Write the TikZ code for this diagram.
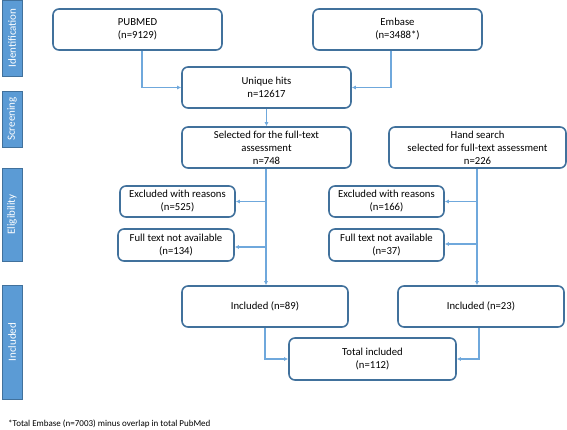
\documentclass[tikz,border=0pt]{standalone}
\usepackage{fontspec}
\setmainfont{Carlito}
\usetikzlibrary{arrows.meta,calc}
\definecolor{boxline}{HTML}{41719C}
\definecolor{conn}{HTML}{6FA8DC}
\definecolor{barfill}{HTML}{5B9BD5}
\tikzset{
  flowbox/.style={draw=boxline, line width=1.6pt, rounded corners=6pt, fill=white,
    align=center, inner sep=1pt, font=\fontsize{10.7}{13}\selectfont},
  sidebar/.style={draw=boxline, line width=0.5pt, fill=barfill, text=white,
    minimum width=20pt, inner sep=0pt, font=\fontsize{11}{12}\selectfont},
  conline/.style={draw=conn, line width=1.2pt, -{Latex[length=4pt,width=4pt]}},
}
\begin{document}
\begin{tikzpicture}[x=1pt,y=-1pt]
\useasboundingbox (0,0) rectangle (567,430);
% side bars
\node[sidebar, minimum height=76pt] (bid) at (12,38) {\rotatebox{90}{Identification}};
\node[sidebar, minimum height=56pt] (bsc) at (12,119) {\rotatebox{90}{Screening}};
\node[sidebar, minimum height=93pt] (bel) at (12,214.5) {\rotatebox{90}{Eligibility}};
\node[sidebar, minimum height=114pt] (bin) at (12,342) {\rotatebox{90}{Included}};
% boxes
\node[flowbox, minimum width=169pt, minimum height=41pt] (pub) at (137.5,29.5) {PUBMED\\(n=9129)};
\node[flowbox, minimum width=169pt, minimum height=41pt] (emb) at (397.5,29.5) {Embase\\(n=3488*)};
\node[flowbox, minimum width=169pt, minimum height=41pt] (uni) at (266.5,87.5) {Unique hits\\n=12617};
\node[flowbox, minimum width=169pt, minimum height=41pt] (sel) at (266.5,147.5) {Selected for the full-text\\assessment\\n=748};
\node[flowbox, minimum width=177pt, minimum height=41pt] (hand) at (477.5,147.5) {Hand search\\selected for full-text assessment\\n=226};
\node[flowbox, minimum width=115pt, minimum height=31pt] (exa) at (177.5,201.5) {Excluded with reasons\\(n=525)};
\node[flowbox, minimum width=116pt, minimum height=32pt] (fta) at (176,245) {Full text not available\\(n=134)};
\node[flowbox, minimum width=115pt, minimum height=31pt] (exb) at (386.5,201.5) {Excluded with reasons\\(n=166)};
\node[flowbox, minimum width=115pt, minimum height=32pt] (ftb) at (386.5,245) {Full text not available\\(n=37)};
\node[flowbox, minimum width=166pt, minimum height=41pt] (inca) at (265,306.5) {Included (n=89)};
\node[flowbox, minimum width=166pt, minimum height=41pt] (incb) at (481,306.5) {Included (n=23)};
\node[flowbox, minimum width=167pt, minimum height=42pt] (tot) at (372.5,359) {Total included\\(n=112)};
% footnote
\node[anchor=west, inner sep=0pt, font=\fontsize{9}{10}\selectfont] (foot) at (8,424) {*Total Embase (n=7003) minus overlap in total PubMed};
% connectors
\draw[conline] (pub.south -| 142,0) |- (uni.west);
\draw[conline] (emb.south -| 391,0) |- (uni.east);
\draw[conline] (uni.south) -- (sel.north);
\draw[conline] (sel.south -| 266,0) -- (inca.north -| 266,0);
\coordinate (ja) at (266,201.5);
\coordinate (jb) at (266,247);
\draw[conline] (ja) -- (exa.east);
\draw[conline] (jb) -- (jb -| fta.east);
\draw[conline] (hand.south -| 477,0) -- (incb.north -| 477,0);
\coordinate (jc) at (477,201.5);
\coordinate (jd) at (477,244);
\draw[conline] (jc) -- (exb.east);
\draw[conline] (jd) -- (jd -| ftb.east);
\draw[conline] (inca.south) |- (tot.west);
\draw[conline] (incb.south -| 479,0) |- (tot.east);
\end{tikzpicture}
\end{document}
